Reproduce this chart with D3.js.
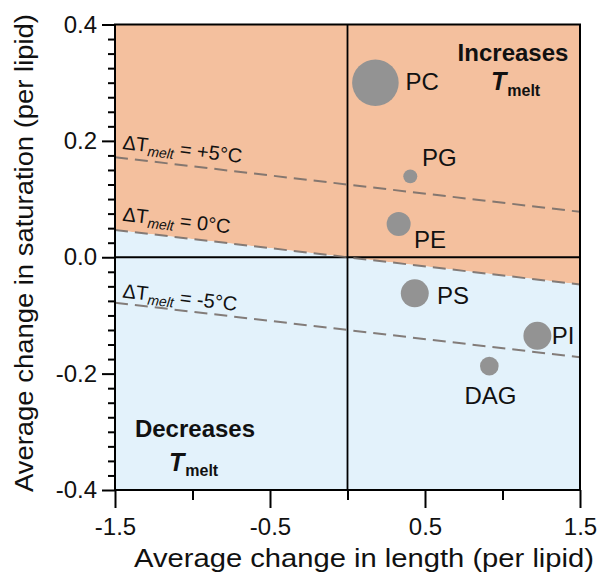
<!DOCTYPE html>
<html>
<head>
<meta charset="utf-8">
<script src="https://cdn.jsdelivr.net/npm/d3@7"></script>
<style>
  html, body { margin: 0; padding: 0; background: #ffffff; }
  svg { display: block; font-family: "Liberation Sans", Arial, Helvetica, sans-serif; }
</style>
</head>
<body>
<svg id="chart" width="600" height="576"></svg>
<script>
// ---------- data ----------
const lipids        = ["PC", "PG", "PE", "PS", "PI", "DAG"];
const lengthChange  = [0.18, 0.405, 0.33, 0.434, 1.225, 0.915];
const satChange     = [0.300, 0.139, 0.057, -0.062, -0.135, -0.187];
const lipidWeight   = [100, 9, 26.5, 36, 36, 16];

const isoDeltaT     = ["+5", "0", "-5"];
const isoIntercept  = [0.125, 0.0, -0.125];
const isoSlope      = -0.0313;

const xMajorTicks   = [-1.5, -0.5, 0.5, 1.5];
const xMinorTicks   = [-1, 0, 1];
const yMajorTicks   = [0.4, 0.2, 0.0, -0.2, -0.4];
const yMinorTicks   = [0.375, 0.35, 0.325, 0.3, 0.275, 0.25, 0.225, 0.175, 0.15, 0.125, 0.1, 0.075, 0.05, 0.025,
                       -0.025, -0.05, -0.075, -0.1, -0.125, -0.15, -0.175, -0.225, -0.25, -0.275, -0.3, -0.325, -0.35, -0.375];

const xTitle = "Average change in length (per lipid)";
const yTitle = "Average change in saturation (per lipid)";

// ---------- layout ----------
const L = 115, R = 580, T = 24.5, B = 490;
const svg = d3.select("#chart");
const x = d3.scaleLinear().domain([-1.5, 1.5]).range([L, R]);
const y = d3.scaleLinear().domain([-0.4, 0.4]).range([B, T]);
const r = d3.scaleSqrt().domain([0, 100]).range([0, 23.3]);

const ORANGE = "#F4C09E";
const BLUE = "#E3F2FB";

// background regions split by the ΔT = 0 line
const x0 = -1.5, x1 = 1.5;
const yl = isoIntercept[1] + isoSlope * x0, yr = isoIntercept[1] + isoSlope * x1;
svg.append("path")
  .attr("d", d3.line()([[x(x0), y(0.4)], [x(x1), y(0.4)], [x(x1), y(yr)], [x(x0), y(yl)]]) + "Z")
  .attr("fill", ORANGE);
svg.append("path")
  .attr("d", d3.line()([[x(x0), y(yl)], [x(x1), y(yr)], [x(x1), y(-0.4)], [x(x0), y(-0.4)]]) + "Z")
  .attr("fill", BLUE);

// zero lines
svg.append("line").attr("x1", x(0)).attr("x2", x(0)).attr("y1", T).attr("y2", B)
  .attr("stroke", "#000").attr("stroke-width", 1.8);
svg.append("line").attr("x1", L).attr("x2", R).attr("y1", y(0)).attr("y2", y(0))
  .attr("stroke", "#000").attr("stroke-width", 1.8);

// iso lines
const labelOffsets = [9, 10, 6];
const angle = Math.atan2(y(isoSlope) - y(0), x(1) - x(0)) * 180 / Math.PI;
isoIntercept.forEach((b, i) => {
  svg.append("line")
    .attr("x1", x(x0)).attr("y1", y(b + isoSlope * x0))
    .attr("x2", x(x1)).attr("y2", y(b + isoSlope * x1))
    .attr("stroke", "#786f6a").attr("stroke-opacity", 0.9).attr("stroke-width", 2)
    .attr("stroke-dasharray", "13,7");
  const lx = 122;
  const ly = y(b + isoSlope * x.invert(lx)) - labelOffsets[i];
  const t = svg.append("text")
    .attr("transform", `translate(${lx},${ly}) rotate(${angle})`)
    .attr("font-size", 20).attr("fill", "#111");
  t.append("tspan").text("\u0394T");
  t.append("tspan").attr("font-size", 14).attr("font-style", "italic").attr("dy", 4).text("melt");
  t.append("tspan").attr("dy", -4).text(" = " + isoDeltaT[i] + "\u00B0C");
});

// points
const labelPlace = {
  PC:  {dx: 30,  dy: 7,   anchor: "start"},
  PG:  {dx: 11.7, dy: -10.3, anchor: "start"},
  PE:  {dx: 15.3, dy: 24.3, anchor: "start"},
  PS:  {dx: 22.3, dy: 10.7, anchor: "start"},
  PI:  {dx: 14.4, dy: 8,   anchor: "start"},
  DAG: {dx: 1.2,  dy: 37.6, anchor: "middle"}
};
const pts = lipids.map((n, i) => ({name: n, lx: lengthChange[i], sy: satChange[i], w: lipidWeight[i]}));
svg.append("g").selectAll("circle").data(pts).join("circle")
  .attr("cx", d => x(d.lx)).attr("cy", d => y(d.sy)).attr("r", d => r(d.w))
  .attr("fill", "#939393");
svg.append("g").selectAll("text").data(pts).join("text")
  .attr("x", d => x(d.lx) + labelPlace[d.name].dx)
  .attr("y", d => y(d.sy) + labelPlace[d.name].dy)
  .attr("text-anchor", d => labelPlace[d.name].anchor)
  .attr("font-size", 24).attr("fill", "#111")
  .text(d => d.name);

// region labels
function regionLabel(word, cx, by, tx, ty) {
  svg.append("text").attr("x", cx).attr("y", by).attr("text-anchor", "middle")
    .attr("font-size", 24).attr("font-weight", "bold").attr("fill", "#111").text(word);
  const t = svg.append("text").attr("x", tx).attr("y", ty).attr("font-weight", "bold").attr("fill", "#111");
  t.append("tspan").attr("font-size", 25).attr("font-style", "italic").text("T");
  t.append("tspan").attr("font-size", 16).attr("dy", 5.5).attr("dx", 1).text("melt");
}
regionLabel("Increases", 513, 61, 491, 90);
regionLabel("Decreases", 195, 436.7, 169, 470.7);

// frame
svg.append("rect").attr("x", L).attr("y", T).attr("width", R - L).attr("height", B - T)
  .attr("fill", "none").attr("stroke", "#000").attr("stroke-width", 2);

// axes
const fmt = v => v.toFixed(1);
const yAxisMajor = svg.append("g").attr("transform", `translate(${L},0)`)
  .call(d3.axisLeft(y).tickValues(yMajorTicks).tickFormat(fmt).tickSize(13).tickPadding(5));
const yAxisMinor = svg.append("g").attr("transform", `translate(${L},0)`)
  .call(d3.axisLeft(y).tickValues(yMinorTicks).tickFormat("").tickSize(7));
const xAxisMajor = svg.append("g").attr("transform", `translate(0,${B})`)
  .call(d3.axisBottom(x).tickValues(xMajorTicks).tickFormat(fmt).tickSize(18).tickPadding(10));
const xAxisMinor = svg.append("g").attr("transform", `translate(0,${B})`)
  .call(d3.axisBottom(x).tickValues(xMinorTicks).tickFormat("").tickSize(10));
[yAxisMajor, yAxisMinor, xAxisMajor, xAxisMinor].forEach(g => {
  g.select(".domain").remove();
  g.selectAll(".tick line").attr("stroke", "#000").attr("stroke-width", 2);
  g.selectAll(".tick text").attr("font-size", 24).attr("fill", "#111")
    .attr("font-family", "\"Liberation Sans\", Arial, Helvetica, sans-serif");
});

// titles
svg.append("text").attr("x", 364).attr("y", 567).attr("text-anchor", "middle")
  .attr("font-size", 25).attr("fill", "#111")
  .attr("textLength", 460).attr("lengthAdjust", "spacingAndGlyphs").text(xTitle);
svg.append("text").attr("transform", `translate(33,253) rotate(-90)`).attr("text-anchor", "middle")
  .attr("font-size", 25).attr("fill", "#111")
  .attr("textLength", 478).attr("lengthAdjust", "spacingAndGlyphs").text(yTitle);
</script>
</body>
</html>
